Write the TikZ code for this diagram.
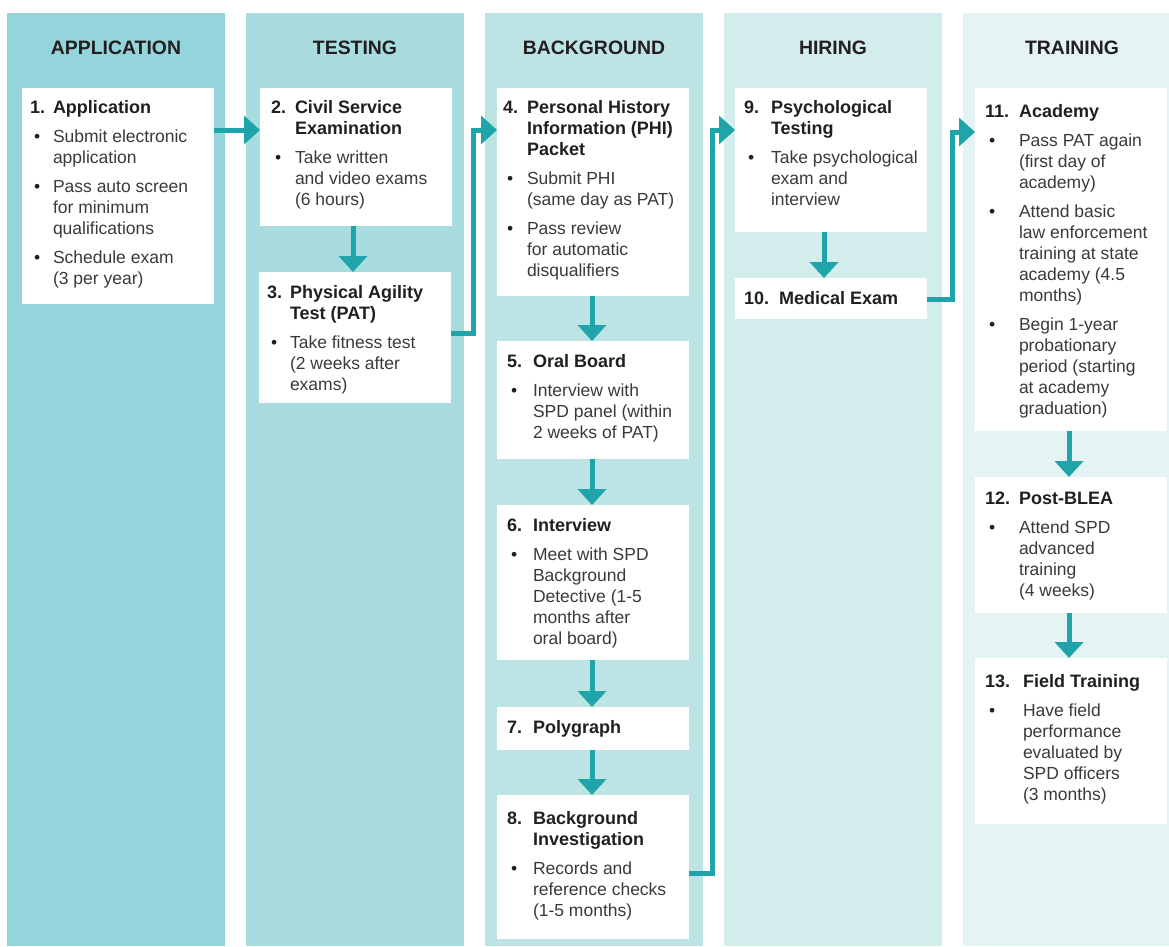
\documentclass[tikz,border=0pt]{standalone}
\usepackage{fontspec}
\setmainfont{Liberation Sans}
\usetikzlibrary{arrows.meta}
\definecolor{colA}{HTML}{93D5DA}
\definecolor{colB}{HTML}{A9DCDF}
\definecolor{colC}{HTML}{BDE4E5}
\definecolor{colD}{HTML}{D3ECEC}
\definecolor{colE}{HTML}{E4F3F4}
\definecolor{arrowcol}{HTML}{1FA4A9}
\definecolor{titlecol}{HTML}{231F20}
\definecolor{bodycol}{HTML}{3A3A3A}
\newlength\labw
\newlength\padl
\newcommand\steptext{\leftskip=\padl\rightskip=0pt plus 1fil\parindent=0pt\parskip=0pt\hyphenpenalty=10000\fontsize{17.5}{21}\selectfont\color{bodycol}}
\newcommand\ttl[3]{\hangindent=\labw\hangafter=1\noindent\rule{0pt}{#1pt}\makebox[\labw][l]{\fontsize{18}{21}\selectfont\bfseries\color{titlecol}#2}{\fontsize{18}{21}\selectfont\bfseries\color{titlecol}#3}\par}
\newcommand\itm[1]{\vskip 8pt\hangindent=\labw\hangafter=1\noindent\makebox[\labw][l]{\hspace{4pt}{\color{titlecol}\textbullet}}#1\par}
\newcommand\stepbox[8]{\node[stepnode, anchor=north west] (#1) at (#2,#3) {\setlength\padl{#6pt}\setlength\labw{#7pt}\parbox[c][#5pt][t]{#4pt}{\steptext #8}};}
\tikzset{
  stepnode/.style={fill=white, inner sep=0pt, outer sep=0pt},
  hdr/.style={anchor=base, font=\fontsize{19.4}{22}\selectfont\bfseries, text=titlecol, inner sep=0pt},
  arr/.style={draw=arrowcol, line width=5pt, line join=miter, -{Triangle[length=16pt,width=28pt]}},
}
\begin{document}
\begin{tikzpicture}[x=1pt,y=-1pt]
\useasboundingbox (0,0) rectangle (1169,946);
% columns
\fill[colA] (7,13) rectangle (225,946);
\fill[colB] (246,13) rectangle (464,946);
\fill[colC] (485,13) rectangle (703,946);
\fill[colD] (724,13) rectangle (942,946);
\fill[colE] (963,13) rectangle (1169,946);
% headers
\node[hdr] (h1) at (116,54) {APPLICATION};
\node[hdr] (h2) at (355,54) {TESTING};
\node[hdr] (h3) at (594,54) {BACKGROUND};
\node[hdr] (h4) at (833,54) {HIRING};
\node[hdr] (h5) at (1072,54) {TRAINING};
% boxes
\stepbox{b1}{22}{88}{192}{216}{8}{23}{\ttl{25}{1.}{Application}\itm{Submit electronic\\application}\itm{Pass auto screen\\for minimum\\qualifications}\itm{Schedule exam\\(3 per year)}}
\stepbox{b2}{260}{88}{192}{138}{11}{24}{\ttl{25}{2.}{Civil Service\\Examination}\itm{Take written\\and video exams\\(6 hours)}}
\stepbox{b3}{259}{272}{192}{131}{8}{23}{\ttl{26}{3.}{Physical Agility\\Test (PAT)}\itm{Take fitness test\\(2 weeks after\\exams)}}
\stepbox{b4}{497}{88}{192}{208}{6}{24}{\ttl{25}{4.}{Personal History\\Information (PHI)\\Packet}\itm{Submit PHI\\(same day as PAT)}\itm{Pass review\\for automatic\\disqualifiers}}
\stepbox{b5}{497}{341}{192}{118}{10}{26}{\ttl{26}{5.}{Oral Board}\itm{Interview with\\SPD panel (within\\2 weeks of PAT)}}
\stepbox{b6}{497}{505}{192}{155}{10}{26}{\ttl{26}{6.}{Interview}\itm{Meet with SPD\\Background\\Detective (1-5\\months after\\oral board)}}
\stepbox{b7}{497}{707}{192}{43}{10}{26}{\ttl{26}{7.}{Polygraph}}
\stepbox{b8}{497}{795}{192}{144}{10}{26}{\ttl{29}{8.}{Background\\Investigation}\itm{Records and\\reference checks\\(1-5 months)}}
\stepbox{b9}{735}{88}{192}{144}{9}{27}{\ttl{25}{9.}{Psychological\\Testing}\itm{Take psychological\\exam and\\interview}}
\stepbox{b10}{735}{278}{192}{41}{9}{35}{\ttl{26}{10.}{Medical Exam}}
\stepbox{b11}{975}{88}{192}{343}{10}{34}{\ttl{29}{11.}{Academy}\itm{Pass PAT again\\(first day of\\academy)}\itm{Attend basic\\law enforcement\\training at state\\academy (4.5\\months)}\itm{Begin 1-year\\probationary\\period (starting\\at academy\\graduation)}}
\stepbox{b12}{975}{477}{192}{136}{10}{34}{\ttl{27}{12.}{Post-BLEA}\itm{Attend SPD\\advanced\\training\\(4 weeks)}}
\stepbox{b13}{975}{658}{192}{166}{10}{38}{\ttl{29}{13.}{Field Training}\itm{Have field\\performance\\evaluated by\\SPD officers\\(3 months)}}
% junction coordinates
\coordinate (j34) at (473,130);
\coordinate (j89) at (712,130);
\coordinate (j1011) at (952,132);
% connectors
\draw[arr] (b1.east |- 0,130) -- (b2.west |- 0,130);
\draw[arr] (b2.south -| 353,0) -- (b3.north -| 353,0);
\draw[arr] (b3.east |- 0,333) -| (j34) -- (b4.west |- j34);
\draw[arr] (b4.south -| 592,0) -- (b5.north -| 592,0);
\draw[arr] (b5.south -| 592,0) -- (b6.north -| 592,0);
\draw[arr] (b6.south -| 592,0) -- (b7.north -| 592,0);
\draw[arr] (b7.south -| 592,0) -- (b8.north -| 592,0);
\draw[arr] (b8.east |- 0,873) -| (j89) -- (b9.west |- j89);
\draw[arr] (b9.south -| 824,0) -- (b10.north -| 824,0);
\draw[arr] (b10.east |- 0,299) -| (j1011) -- (b11.west |- j1011);
\draw[arr] (b11.south -| 1069,0) -- (b12.north -| 1069,0);
\draw[arr] (b12.south -| 1069,0) -- (b13.north -| 1069,0);
\end{tikzpicture}
\end{document}
